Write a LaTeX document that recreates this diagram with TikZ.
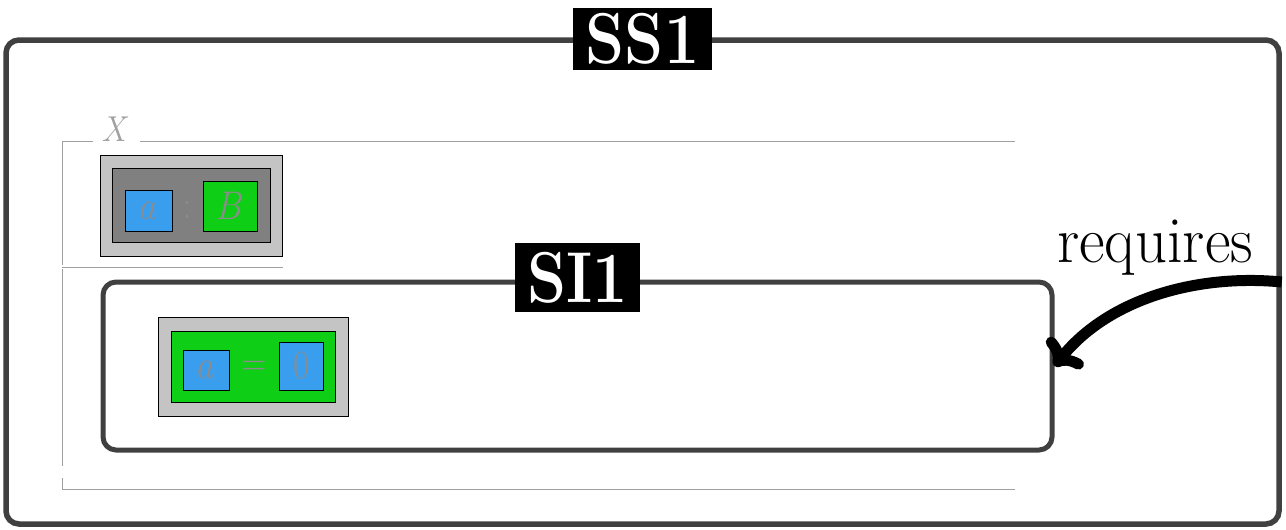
\RequirePackage{fix-cm}
\documentclass[tikz,border=0pt]{standalone}
\usetikzlibrary{arrows.meta}
\definecolor{framegray}{HTML}{404040}
\definecolor{xgray}{HTML}{A0A0A0}
\definecolor{txtgray}{HTML}{8C8C8C}
\definecolor{lightbox}{HTML}{C4C4C4}
\definecolor{darkbox}{HTML}{808080}
\definecolor{bluebox}{HTML}{3A9EEF}
\definecolor{greenbox}{HTML}{0ECE16}
\newcommand{\hsq}[1]{\scalebox{0.87}[1]{#1}}
\begin{document}
\begin{tikzpicture}[x=1pt,y=1pt,
  scopebox/.style={draw=framegray, rounded corners=13pt, inner sep=0pt},
  tagbox/.style={fill=black, text=white, inner sep=0pt, font=\fontsize{72}{80}\selectfont\bfseries},
  xline/.style={draw=xgray, line width=1pt},
  cell/.style={draw=black, line width=1pt, inner sep=0pt, text=txtgray, font=\fontsize{40}{46}\selectfont},
  sym/.style={inner sep=0pt, text=txtgray, font=\fontsize{40}{46}\selectfont},
]
\useasboundingbox (0,0) rectangle (1286,-530);
% outer scope SS1
\node[scopebox, line width=5.5pt, minimum width=1273pt, minimum height=484pt] (ss1) at (642.5,-282) {};
\node[tagbox, minimum width=139pt, minimum height=62pt] (ss1tag) at (642.5,-39) {\hsq{SS1}};
% X frame
\draw[xline] (93,-141) -- (62,-141) -- (62,-265);
\draw[xline] (140,-141) -- (1015,-141);
\draw[xline] (62,-267) -- (283,-267);
\draw[xline] (62,-269) -- (62,-466);
\draw[xline] (62,-478) -- (62,-489) -- (1015,-489);
\node[inner sep=0pt, text=xgray, font=\fontsize{36}{42}\selectfont] (xlab) at (116,-129.5) {\hsq{$X$}};
% type box a : B
\node[cell, fill=lightbox, minimum width=182pt, minimum height=101pt] (tyout) at (191,-205.5) {};
\node[cell, fill=darkbox, minimum width=158pt, minimum height=74pt] (tyin) at (191,-205) {};
\node[cell, fill=bluebox, minimum width=47pt, minimum height=41pt] (tya) at (148.5,-210.5) {\hsq{$a$}};
\node[sym] (tycolon) at (187,-210) {\hsq{$:$}};
\node[cell, fill=greenbox, minimum width=54pt, minimum height=50pt] (tyb) at (230,-206) {\hsq{$B$}};
% inner scope SI1
\node[scopebox, line width=5pt, minimum width=949pt, minimum height=168pt] (si1) at (577.5,-366) {};
\node[tagbox, minimum width=125pt, minimum height=69pt] (si1tag) at (577.5,-277.5) {\hsq{SI1}};
% equation box a = 0
\node[cell, fill=lightbox, minimum width=190pt, minimum height=99pt] (eqout) at (253,-366.5) {};
\node[cell, fill=greenbox, minimum width=164pt, minimum height=71pt] (eqin) at (253,-366.5) {};
\node[cell, fill=bluebox, minimum width=46pt, minimum height=40pt] (eqa) at (206,-370) {\hsq{$a$}};
\node[sym] (eqsign) at (254,-368) {\hsq{$=$}};
\node[cell, fill=bluebox, minimum width=44pt, minimum height=48pt] (eqz) at (301,-366) {\hsq{$0$}};
% requires arrow
\node[inner sep=0pt, anchor=base, font=\fontsize{66}{72}\selectfont] (req) at (1155,-262) {\scalebox{0.95}[1]{requires}};
\draw[line width=11pt, -{To[round, length=22pt, width=46pt]}]
  (ss1.east) .. controls (1200,-274) and (1110,-297) .. (si1.east);
\end{tikzpicture}
\end{document}
